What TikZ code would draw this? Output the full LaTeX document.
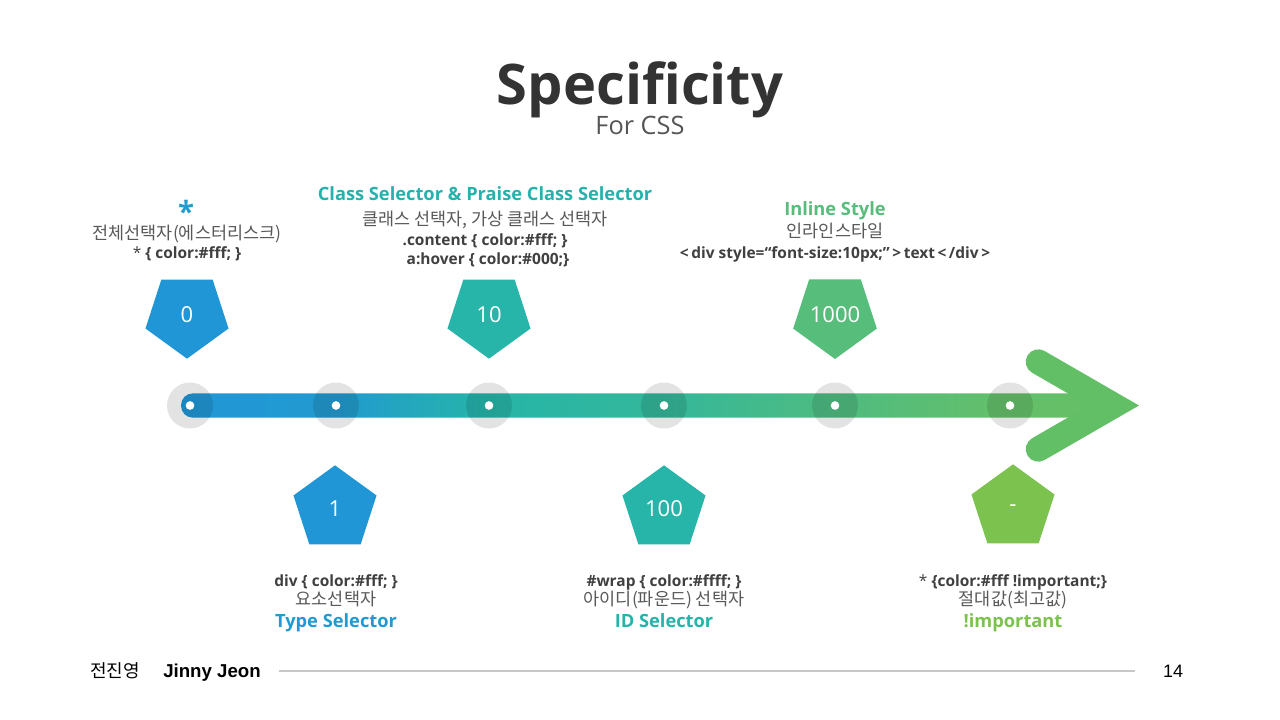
\documentclass[tikz,border=0pt]{standalone}
\usepackage{fontspec}
\setmainfont{Open Sans}
\newfontfamily\kr{Noto Sans CJK KR}
\newfontfamily\ft{Liberation Sans}
\usetikzlibrary{shapes.geometric}

\definecolor{titlegray}{HTML}{333333}
\definecolor{subgray}{HTML}{555555}
\definecolor{codegray}{HTML}{404040}
\definecolor{krgray}{HTML}{595959}
\definecolor{cblue}{HTML}{2196D6}
\definecolor{cteal}{HTML}{26B5A8}
\definecolor{cgreen}{HTML}{56BD7A}
\definecolor{clime}{HTML}{7CC24F}
\definecolor{chev}{HTML}{63BF66}
\definecolor{rulegray}{HTML}{C8C8C8}

% gradient of the timeline bar, blue -> teal -> green
% (TikZ fits the middle 25bp..75bp of the shading to the path)
\pgfdeclarehorizontalshading{barshade}{100bp}{%
  color(0bp)=(cblue);
  color(25bp)=(cblue);
  color(33.5bp)=(cblue!85!cteal);
  color(41.5bp)=(cteal);
  color(51bp)=(cteal!70!cgreen);
  color(60bp)=(cgreen!85!cteal);
  color(69.5bp)=(cgreen!60!clime);
  color(75bp)=(chev);
  color(100bp)=(chev)}

\newcommand{\fsz}[1]{\fontsize{#1}{#1}\selectfont}

\begin{document}
\begin{tikzpicture}[x=0.75pt, y=-0.75pt,
  penta/.style={regular polygon, regular polygon sides=5, minimum size=65.5pt,
    inner sep=0pt, text=white, font=\fsz{16.5}},
  pdown/.style={penta, shape border rotate=180},
  halo/.style={circle, fill=black, fill opacity=0.11, minimum size=34.5pt, inner sep=0pt},
  dotw/.style={circle, fill=white, minimum size=6.5pt, inner sep=0pt},
  head/.style={anchor=base, font=\bfseries\fsz{13.7}},
  krline/.style={anchor=base, text=krgray, font=\kr\fsz{13.1}},
  code/.style={anchor=base, text=codegray, font=\bfseries\fsz{11.6}}]

\useasboundingbox (0,0) rectangle (1280,720);
\fill[white] (0,0) rectangle (1280,720);

% title
\node[anchor=base, inner sep=0pt, text=titlegray, font=\bfseries\fsz{42}] (title) at (640,105) {Specificity};
\node[anchor=base, inner sep=0pt, text=subgray, font=\fsz{19}] (subtitle) at (640,135) {For CSS};

% timeline bar and arrow head
\shade[shading=barshade, rounded corners=9pt] (181,393.3) rectangle (1112,417.7);
\draw[chev, line width=18.8pt, line cap=round, line join=miter]
  (1038.3,361.85) -- (1113.9,405.5) -- (1038.3,449.15);

% markers on the timeline
\foreach \x/\n in {190/0, 336/1, 489/10, 664/100, 835/1000, 1010/imp}{
  \node[halo] (h\n) at (\x,405.5) {};
  \node[dotw] (d\n) at (\x,405.5) {};
}

% specificity values
\node[pdown, fill=cblue]  (p0)    at (187,315) {0};
\node[pdown, fill=cteal]  (p10)   at (489,315) {10};
\node[pdown, fill=cgreen] (p1000) at (835,315) {1000};
\node[penta, fill=cblue]  (p1)    at (335,509) {1};
\node[penta, fill=cteal]  (p100)  at (664,509) {100};
\node[penta, fill=clime]  (pimp)  at (1013,508) {-};

% universal selector
\node[inner sep=0pt, text=cblue!80!cteal, font=\bfseries\fsz{22}] (star) at (186,211) {*};
\node[krline] (k0) at (187,239) {전체선택자(에스터리스크)};
\node[code] (c0) at (187,258) {{\mdseries *} \{ color:\#fff; \}};

% class selector
\node[head, text=cteal!90!cblue] (t10) at (485,201) {Class Selector \& Praise Class Selector};
\node[krline] (k10) at (485,226) {클래스 선택자, 가상 클래스 선택자};
\node[code] (c10a) at (485,245) {.content \{ color:\#fff; \}};
\node[code] (c10b) at (488,264) {a:hover \{ color:\#000;\}};

% inline style
\node[head, text=cgreen] (t1000) at (835,215) {Inline Style};
\node[krline] (k1000) at (835,238) {인라인스타일};
\node[code] (c1000) at (835,258) {<\,div style=“font-size:10px;”\,>\,text\,<\,/div\,>};

% type selector
\node[code] (c1) at (336,586) {div \{ color:\#fff; \}};
\node[krline] (k1) at (336,605) {요소선택자};
\node[head, text=cblue!90!cteal] (t1) at (336,627) {Type Selector};

% id selector
\node[code] (c100) at (664,586) {\#wrap \{ color:\#ffff; \}};
\node[krline] (k100) at (664,605) {아이디(파운드) 선택자};
\node[head, text=cteal!95!cblue] (t100) at (664,627) {ID Selector};

% important
\node[code] (cimp) at (1013,586) {{\mdseries *} \{color:\#fff !important;\}};
\node[krline] (kimp) at (1013,605) {절대값(최고값)};
\node[head, text=clime] (timp) at (1013,627) {!important};

% footer
\node[anchor=base west, inner sep=0pt, text=black, font=\kr\fsz{13.5}] (fname) at (90,677) {전진영};
\node[anchor=base west, inner sep=0pt, text=black, font=\ft\bfseries\fsz{14}] (fen) at (163,677) {Jinny Jeon};
\node[anchor=base, inner sep=0pt, text=black, font=\ft\fsz{13.5}] (page) at (1173,677) {14};
\coordinate (ruleA) at (279,671);
\coordinate (ruleB) at (1135,671);
\draw[rulegray, line width=0.8pt] (ruleA) -- (ruleB);

\end{tikzpicture}
\end{document}
